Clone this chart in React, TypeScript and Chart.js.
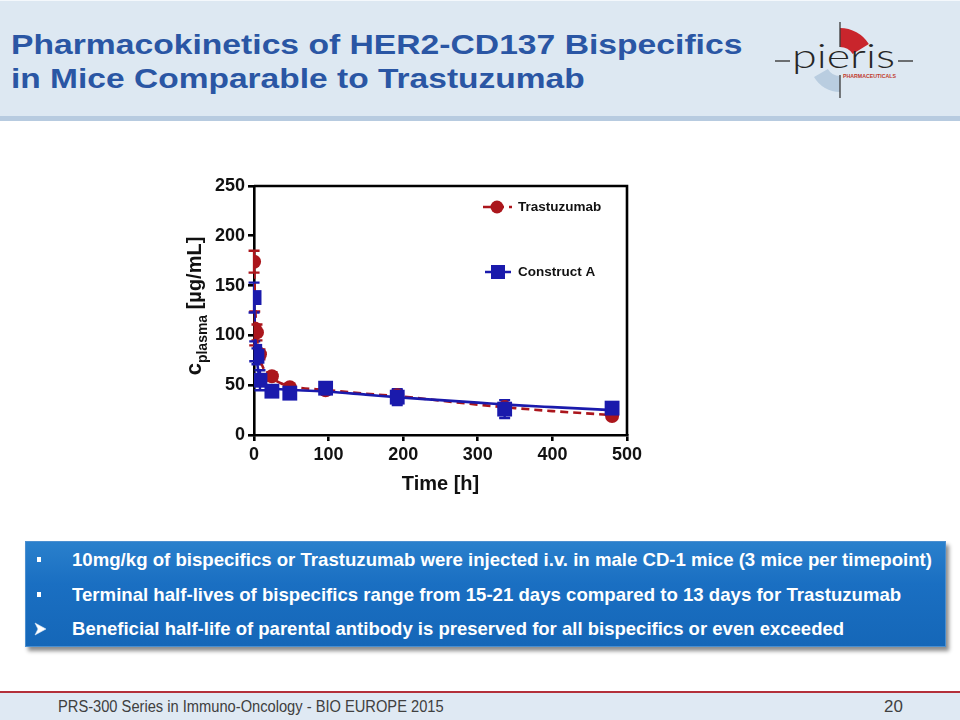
import React, { useEffect, useLayoutEffect, useRef, useState } from 'react';
import { Chart, registerables } from 'chart.js';

Chart.register(...registerables);

// ---------------- data ----------------
const seriesNames = ['Trastuzumab', 'Construct A'];
const timePoints = [0.083, 1, 4, 8, 24, 48, 96, 192, 336, 480];
const trastuzumabMean = [174, 107, 103, 81, 59, 48, 45, 40, 28, 19];
const trastuzumabSD = [11, 17, 8, 5, 4, 3, 3, 5, 4, 2];
const constructAMean = [138, 84, 79, 55, 44, 42, 47, 38, 26, 27];
const constructASD = [15, 10, 8, 10, 5, 3, 3, 8, 9, 5];

const trastuzumabFitTime = [0, 1, 2, 4, 6, 8, 12, 18, 24, 36, 48, 100, 150, 200, 250, 300, 350, 400, 480];
const trastuzumabFitValue = [178, 145, 122, 98, 85, 77, 68, 61, 57, 52, 49, 45, 41.5, 38.5, 34.5, 30.5, 27, 24, 20];
const constructAFitTime = [0, 1, 2, 4, 6, 8, 12, 18, 24, 48, 100, 150, 200, 250, 300, 350, 400, 480];
const constructAFitValue = [140, 112, 95, 75, 63, 56, 51, 48.5, 47, 45.5, 43.5, 40.5, 37.5, 35, 32.5, 30, 28, 25];

const xTicks = [0, 100, 200, 300, 400, 500];
const yTicks = [0, 50, 100, 150, 200, 250];

const xTitle = 'Time [h]';
const yTitleMain = 'c';
const yTitleSub = 'plasma';
const yTitleUnit = '[µg/mL]';

const titleLines = ['Pharmacokinetics of HER2-CD137 Bispecifics', 'in Mice Comparable to Trastuzumab'];
const bulletLines = [
  '10mg/kg of bispecifics or Trastuzumab were injected i.v. in male CD-1 mice (3 mice per timepoint)',
  'Terminal half-lives of bispecifics range from 15-21 days compared to 13 days for Trastuzumab',
  'Beneficial half-life of parental antibody is preserved for all bispecifics or even exceeded',
];
const footerText = 'PRS-300 Series in Immuno-Oncology - BIO EUROPE 2015';
const pageNumber = '20';

// ---------------- styles ----------------
const FONT = "'Liberation Sans', Arial, Helvetica, sans-serif";
const RED = '#ab161c';
const BLUE = '#1a1aac';

const CX = 150;
const CY = 160;
const CW = 520;
const CH = 350;

function drawErrorBars(chart: any, times: number[], means: number[], sds: number[], color: string) {
  const { ctx, scales } = chart;
  const x = scales.x;
  const y = scales.y;
  ctx.save();
  ctx.strokeStyle = color;
  ctx.lineWidth = 2.4;
  ctx.setLineDash([]);
  times.forEach((t, i) => {
    const px = x.getPixelForValue(t);
    const top = y.getPixelForValue(means[i] + sds[i]);
    const bot = y.getPixelForValue(Math.max(0, means[i] - sds[i]));
    ctx.beginPath();
    ctx.moveTo(px, top);
    ctx.lineTo(px, bot);
    ctx.moveTo(px - 5.5, top);
    ctx.lineTo(px + 5.5, top);
    ctx.moveTo(px - 5.5, bot);
    ctx.lineTo(px + 5.5, bot);
    ctx.stroke();
  });
  ctx.restore();
}

const overlayPlugin = {
  id: 'overlay',
  beforeDatasetsDraw(chart: any) {
    drawErrorBars(chart, timePoints, trastuzumabMean, trastuzumabSD, RED);
    drawErrorBars(chart, timePoints, constructAMean, constructASD, BLUE);
  },
  afterDraw(chart: any) {
    const { ctx, chartArea } = chart;
    ctx.save();
    // frame top & right
    ctx.strokeStyle = '#000';
    ctx.lineWidth = 2.6;
    ctx.beginPath();
    ctx.moveTo(chartArea.left, chartArea.top);
    ctx.lineTo(chartArea.right, chartArea.top);
    ctx.lineTo(chartArea.right, chartArea.bottom);
    ctx.stroke();

    // x title
    ctx.fillStyle = '#111';
    ctx.font = `bold 20px ${FONT}`;
    ctx.textAlign = 'center';
    ctx.textBaseline = 'alphabetic';
    ctx.fillText(xTitle, (chartArea.left + chartArea.right) / 2, 490 - CY);

    // y title (rotated, with subscript)
    const mainF = `bold 22px ${FONT}`;
    const subF = `bold 14px ${FONT}`;
    const unitF = `bold 20px ${FONT}`;
    ctx.font = mainF;
    const wMain = ctx.measureText(yTitleMain).width;
    ctx.font = subF;
    const wSub = ctx.measureText(yTitleSub).width;
    ctx.font = unitF;
    const wSpace = ctx.measureText(' ').width;
    const wUnit = ctx.measureText(yTitleUnit).width;
    const total = wMain + wSub + wSpace + wUnit;
    ctx.translate(201 - CX, 306 - CY);
    ctx.rotate(-Math.PI / 2);
    ctx.textAlign = 'left';
    let pos = -total / 2;
    ctx.font = mainF;
    ctx.fillText(yTitleMain, pos, 0);
    pos += wMain;
    ctx.font = subF;
    ctx.fillText(yTitleSub, pos, 6);
    pos += wSub + wSpace;
    ctx.font = unitF;
    ctx.fillText(yTitleUnit, pos, 0);
    ctx.restore();

    // legend
    ctx.save();
    const ly1 = 207 - CY;
    const ly2 = 272 - CY;
    ctx.strokeStyle = RED;
    ctx.lineWidth = 2.5;
    ctx.setLineDash([8, 5]);
    ctx.beginPath();
    ctx.moveTo(483 - CX, ly1);
    ctx.lineTo(512 - CX, ly1);
    ctx.stroke();
    ctx.setLineDash([]);
    ctx.fillStyle = RED;
    ctx.beginPath();
    ctx.arc(497 - CX, ly1, 6.5, 0, Math.PI * 2);
    ctx.fill();

    ctx.strokeStyle = BLUE;
    ctx.beginPath();
    ctx.moveTo(485 - CX, ly2);
    ctx.lineTo(511 - CX, ly2);
    ctx.stroke();
    ctx.fillStyle = BLUE;
    ctx.fillRect(498 - CX - 7, ly2 - 7, 14, 14);

    ctx.fillStyle = '#111';
    ctx.font = `bold 13.5px ${FONT}`;
    ctx.textAlign = 'left';
    ctx.textBaseline = 'middle';
    ctx.fillText(seriesNames[0], 518 - CX, ly1);
    ctx.fillText(seriesNames[1], 518 - CX, ly2);
    ctx.restore();
  },
};

function PKChart() {
  const ref = useRef<HTMLCanvasElement>(null);
  useEffect(() => {
    if (!ref.current) return;
    const chart = new Chart(ref.current, {
      type: 'scatter',
      data: {
        datasets: [
          {
            label: seriesNames[1],
            data: timePoints.map((t, i) => ({ x: t, y: constructAMean[i] })),
            showLine: false,
            pointStyle: 'rect',
            pointRadius: 10.5,
            pointBackgroundColor: BLUE,
            pointBorderColor: BLUE,
            pointBorderWidth: 0,
            order: 0,
          },
          {
            label: seriesNames[0],
            data: timePoints.map((t, i) => ({ x: t, y: trastuzumabMean[i] })),
            showLine: false,
            pointStyle: 'circle',
            pointRadius: 7,
            pointBackgroundColor: RED,
            pointBorderColor: RED,
            pointBorderWidth: 0,
            order: 1,
          },
          {
            label: seriesNames[1] + ' fit',
            data: constructAFitTime.map((t, i) => ({ x: t, y: constructAFitValue[i] })),
            showLine: true,
            pointRadius: 0,
            borderColor: BLUE,
            borderWidth: 2.6,
            cubicInterpolationMode: 'monotone',
            order: 2,
          },
          {
            label: seriesNames[0] + ' fit',
            data: trastuzumabFitTime.map((t, i) => ({ x: t, y: trastuzumabFitValue[i] })),
            showLine: true,
            pointRadius: 0,
            borderColor: RED,
            borderWidth: 2.6,
            borderDash: [8, 5],
            cubicInterpolationMode: 'monotone',
            order: 3,
          },
        ] as any,
      },
      options: {
        responsive: false,
        animation: false,
        events: [],
        devicePixelRatio: 1,
        layout: { padding: { top: 186 - CY, right: CX + CW - 627, left: 0, bottom: 0 } },
        plugins: { legend: { display: false }, tooltip: { enabled: false }, title: { display: false } },
        scales: {
          x: {
            type: 'linear',
            min: xTicks[0],
            max: xTicks[xTicks.length - 1],
            afterBuildTicks: (s: any) => {
              s.ticks = xTicks.map((v) => ({ value: v }));
            },
            afterFit: (s: any) => {
              s.height = CY + CH - 435;
            },
            border: { display: true, color: '#000', width: 2.6 },
            grid: { display: true, drawOnChartArea: false, drawTicks: true, tickLength: 6, color: '#000', lineWidth: 2.6 },
            ticks: { color: '#111', font: { family: FONT, weight: 'bold', size: 18 }, padding: 3, maxRotation: 0 },
          },
          y: {
            type: 'linear',
            min: yTicks[0],
            max: yTicks[yTicks.length - 1],
            afterBuildTicks: (s: any) => {
              s.ticks = yTicks.map((v) => ({ value: v }));
            },
            afterFit: (s: any) => {
              s.width = 254 - CX;
            },
            border: { display: true, color: '#000', width: 2.6 },
            grid: { display: true, drawOnChartArea: false, drawTicks: true, tickLength: 6, color: '#000', lineWidth: 2.6 },
            ticks: { color: '#111', font: { family: FONT, weight: 'bold', size: 18 }, padding: 3 },
          },
        },
      } as any,
      plugins: [overlayPlugin],
    });
    return () => chart.destroy();
  }, []);
  return (
    <canvas
      ref={ref}
      width={CW}
      height={CH}
      style={{ position: 'absolute', left: CX, top: CY, width: CW, height: CH }}
    />
  );
}

function FitText(props: {
  x: number;
  baseline: number;
  width: number;
  size: number;
  weight?: number | string;
  color: string;
  text: string;
  family?: string;
}) {
  const { x, baseline, width, size, weight = 400, color, text, family = FONT } = props;
  const ref = useRef<HTMLSpanElement>(null);
  const [scale, setScale] = useState(1);
  useLayoutEffect(() => {
    const el = ref.current;
    if (!el) return;
    const natural = el.offsetWidth;
    if (natural > 0) setScale(width / natural);
  }, [text, width, size]);
  return (
    <span
      ref={ref}
      style={{
        position: 'absolute',
        left: x,
        top: baseline - 0.8465 * size,
        fontSize: size,
        lineHeight: 1,
        fontWeight: weight as any,
        color,
        fontFamily: family,
        whiteSpace: 'nowrap',
        display: 'inline-block',
        transform: `scaleX(${scale})`,
        transformOrigin: '0 0',
      }}
    >
      {text}
    </span>
  );
}

function sector(cx: number, cy: number, r1: number, r2: number, a1: number, a2: number) {
  const rad = (a: number) => (a * Math.PI) / 180;
  const p = (r: number, a: number) => `${cx + r * Math.cos(rad(a))} ${cy + r * Math.sin(rad(a))}`;
  return `M ${p(r2, a1)} A ${r2} ${r2} 0 0 1 ${p(r2, a2)} L ${p(r1, a2)} A ${r1} ${r1} 0 0 0 ${p(r1, a1)} Z`;
}

function Logo() {
  return (
    <svg
      width={180}
      height={100}
      viewBox="760 10 180 100"
      style={{ position: 'absolute', left: 760, top: 10 }}
    >
      <path d={sector(840, 62, 15, 34, -90, -32)} fill="#c9252c" />
      <path d={sector(840, 62, 14, 30, 90, 150)} fill="#b9cde0" />
      <line x1={840} y1={22} x2={840} y2={47} stroke="#3a3a3a" strokeWidth={1.3} />
      <line x1={840} y1={75} x2={840} y2={98} stroke="#3a3a3a" strokeWidth={1.3} />
      <line x1={775} y1={61} x2={790} y2={61} stroke="#3a3a3a" strokeWidth={1.4} />
      <line x1={898} y1={61} x2={913} y2={61} stroke="#3a3a3a" strokeWidth={1.4} />
      <text
        x={792}
        y={68}
        fontSize={34}
        fontFamily="Lato, 'Open Sans', 'DejaVu Sans', sans-serif"
        fontWeight={300}
        textLength={103}
        lengthAdjust="spacingAndGlyphs"
        fill="#262626"
      >
        pieris
      </text>
      <text
        x={843}
        y={77.5}
        fontSize={6}
        fontFamily={FONT}
        fontWeight="bold"
        textLength={53}
        lengthAdjust="spacingAndGlyphs"
        fill="#c0392b"
      >
        PHARMACEUTICALS
      </text>
    </svg>
  );
}

export default function App() {
  const bulletBaselines = [567, 602, 636];
  const bulletWidths = [860, 829, 772];
  return (
    <div
      style={{
        position: 'absolute',
        left: 0,
        top: 0,
        width: 960,
        height: 720,
        background: '#ffffff',
        overflow: 'hidden',
        fontFamily: FONT,
      }}
    >
      {/* header */}
      <div style={{ position: 'absolute', left: 0, top: 0, width: 960, height: 116, background: '#dde8f2' }} />
      <div style={{ position: 'absolute', left: 0, top: 0, width: 960, height: 1, background: '#f4f8fc' }} />
      <div style={{ position: 'absolute', left: 0, top: 116, width: 960, height: 5, background: '#b7cbe0' }} />
      <FitText x={11} baseline={54} width={731} size={28.5} weight={700} color="#2a56a4" text={titleLines[0]} />
      <FitText x={11} baseline={88} width={574} size={28.5} weight={700} color="#2a56a4" text={titleLines[1]} />
      <Logo />

      {/* chart */}
      <PKChart />

      {/* bullet box */}
      <div
        style={{
          position: 'absolute',
          left: 25,
          top: 541,
          width: 921,
          height: 106,
          background: 'linear-gradient(to bottom, #2a80cc 0%, #1a6fc2 40%, #1567b8 100%)',
          border: '1px solid #4b8fd0',
          boxSizing: 'border-box',
          boxShadow: '3px 4px 4px rgba(0,0,0,0.45)',
        }}
      />
      <div style={{ position: 'absolute', left: 37, top: 557, width: 4, height: 5, background: '#fff' }} />
      <div style={{ position: 'absolute', left: 37, top: 592, width: 4, height: 5, background: '#fff' }} />
      <svg width={14} height={14} style={{ position: 'absolute', left: 34, top: 622 }} viewBox="0 0 14 14">
        <path d="M1 1 L12 7 L1 13 L4 7 Z" fill="#ffffff" stroke="#d8e6f5" strokeWidth={0.6} />
      </svg>
      {bulletLines.map((t, i) => (
        <FitText
          key={i}
          x={72}
          baseline={bulletBaselines[i]}
          width={bulletWidths[i]}
          size={18.5}
          weight={700}
          color="#ffffff"
          text={t}
        />
      ))}

      {/* footer */}
      <div style={{ position: 'absolute', left: 0, top: 691, width: 960, height: 2, background: '#b3303a' }} />
      <div style={{ position: 'absolute', left: 0, top: 693, width: 960, height: 27, background: '#dfe9f3' }} />
      <FitText x={58} baseline={713} width={386} size={16} weight={400} color="#404040" text={footerText} />
      <FitText x={884} baseline={713} width={19} size={16} weight={400} color="#404040" text={pageNumber} />
    </div>
  );
}
